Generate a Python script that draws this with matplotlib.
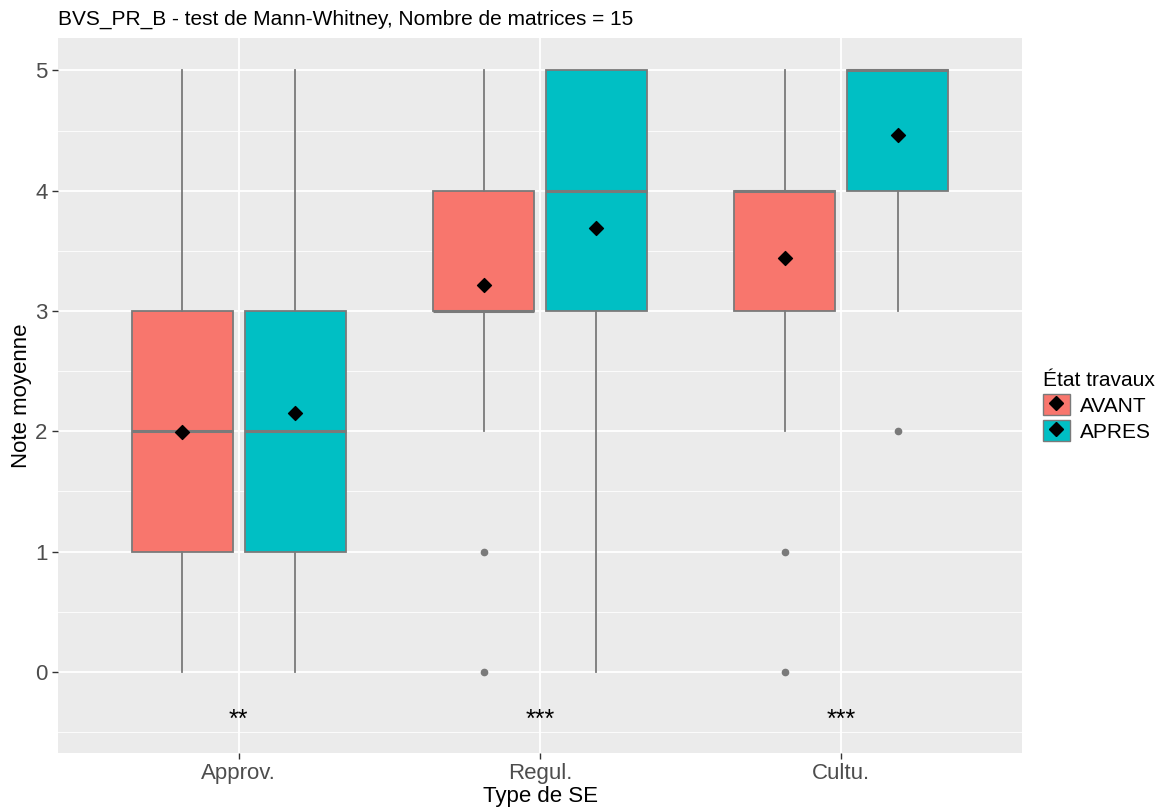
import numpy as np
import matplotlib.pyplot as plt
from matplotlib.patches import Patch
from matplotlib.lines import Line2D

plt.rcParams['font.family'] = ['Liberation Sans', 'DejaVu Sans']

categories = ["Approv.", "Regul.", "Cultu."]
groups = ["AVANT", "APRES"]
colors = {"AVANT": "#F8766D", "APRES": "#00BFC4"}

# box stats per group, one entry per category
whislo = {"AVANT": [0, 2, 2], "APRES": [0, 0, 3]}
q1 = {"AVANT": [1, 3, 3], "APRES": [1, 3, 4]}
med = {"AVANT": [2, 3, 4], "APRES": [2, 4, 5]}
q3 = {"AVANT": [3, 4, 4], "APRES": [3, 5, 5]}
whishi = {"AVANT": [5, 5, 5], "APRES": [5, 5, 5]}
fliers = {"AVANT": [[], [1, 0], [1, 0]], "APRES": [[], [], [2]]}
means = {"AVANT": [1.99, 3.22, 3.44], "APRES": [2.15, 3.69, 4.46]}
signif = ["**", "***", "***"]

fig = plt.figure(figsize=(11.64, 8.07), dpi=100)
ax = fig.add_axes([58/1164, 1-753/807, (1022-58)/1164, (753-38)/807])
ax.set_facecolor("#EBEBEB")

x = np.arange(1, len(categories) + 1)
offsets = {"AVANT": -0.1875, "APRES": 0.1875}
edge = "#7A7A7A"

for g in groups:
    stats = []
    for i in range(len(categories)):
        stats.append(dict(whislo=whislo[g][i], q1=q1[g][i], med=med[g][i],
                          q3=q3[g][i], whishi=whishi[g][i], fliers=fliers[g][i]))
    ax.bxp(stats, positions=x + offsets[g], widths=0.335, patch_artist=True,
           showcaps=False, manage_ticks=False,
           boxprops=dict(facecolor=colors[g], edgecolor=edge, linewidth=1.3),
           medianprops=dict(color=edge, linewidth=2.2),
           whiskerprops=dict(color=edge, linewidth=1.3),
           flierprops=dict(marker='o', markerfacecolor=edge, markeredgecolor=edge,
                           markersize=4.5), zorder=3)
    ax.scatter(x + offsets[g], means[g], marker='D', s=50, color='black', zorder=5)

for xi, s in zip(x, signif):
    ax.text(xi, -0.40, s, ha='center', va='center', fontsize=18, color='black')

ax.set_xlim(0.4, 3.6)
ax.set_ylim(-0.675, 5.27)
ax.set_xticks(x)
ax.set_xticklabels(categories)
ax.set_yticks(range(0, 6))
ax.set_yticks(np.arange(-0.5, 5.5, 1.0), minor=True)
ax.grid(True, which='major', color='white', linewidth=1.3, zorder=0)
ax.grid(True, which='minor', axis='y', color='white', linewidth=0.6, zorder=0)
ax.set_axisbelow(True)
for sp in ax.spines.values():
    sp.set_visible(False)
ax.tick_params(axis='both', which='major', colors='#333333', labelcolor='#4D4D4D',
               labelsize=16, length=4, width=1)
ax.tick_params(axis='y', which='minor', length=0)

ax.set_xlabel("Type de SE", fontsize=16, labelpad=1)
ax.set_ylabel("Note moyenne", fontsize=16, labelpad=2)
fig.text(58/1164, 1-19/807, "BVS_PR_B - test de Mann-Whitney, Nombre de matrices = 15",
         ha='left', va='center', fontsize=15)

handles = []
for g in groups:
    handles.append((Patch(facecolor=colors[g], edgecolor=edge, linewidth=1.0),
                    Line2D([], [], marker='D', color='black', linestyle='None', markersize=7)))
leg = fig.legend(handles, groups, title="État travaux", loc='upper left',
                 bbox_to_anchor=(1024/1164, 1-352/807), frameon=False, fontsize=15,
                 title_fontsize=15, handlelength=1.3, handleheight=1.2,
                 handletextpad=0.5, labelspacing=0.2)
leg._legend_box.align = "left"

fig.savefig("out.png", dpi=100)
